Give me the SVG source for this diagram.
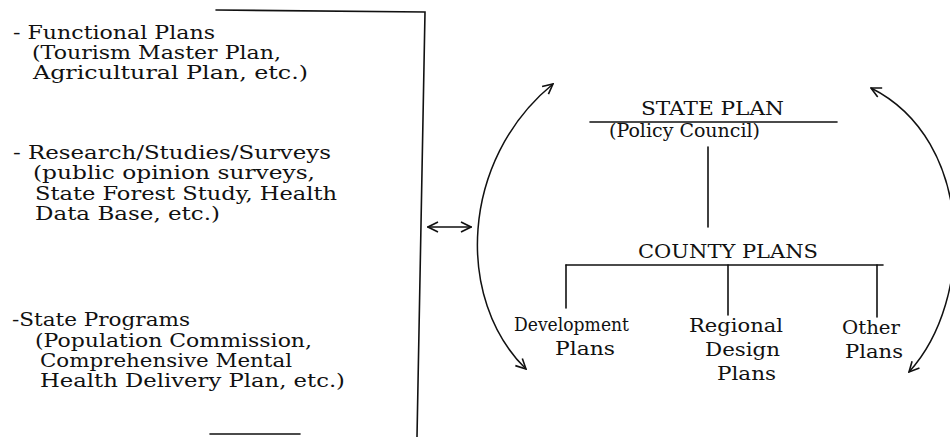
<svg xmlns="http://www.w3.org/2000/svg" width="950" height="437" viewBox="0 0 950 437">
<style>
text{font-family:"DejaVu Serif","Liberation Serif",serif;font-size:18px;fill:#111}
.ln{stroke:#111;stroke-width:1.6;fill:none;stroke-linecap:round}
.arc{stroke:#111;stroke-width:1.5;fill:none}
</style>
<defs>
<marker id="v" viewBox="0 0 12 12" refX="11" refY="6" markerWidth="12" markerHeight="12" markerUnits="userSpaceOnUse" orient="auto-start-reverse">
<path d="M1 1 L11 6 L1 11" fill="none" stroke="#111" stroke-width="1.6"/>
</marker>
</defs>
<g id="left-bracket">
<path class="ln" d="M216 10 L425 12 L417 437"/>
<path class="ln" d="M210 434 L300 434"/>
</g>
<g id="functional-plans">
<text x="13" y="39" textLength="202" lengthAdjust="spacingAndGlyphs">- Functional Plans</text>
<text x="32" y="59" textLength="249" lengthAdjust="spacingAndGlyphs">(Tourism Master Plan,</text>
<text x="33" y="79" textLength="275" lengthAdjust="spacingAndGlyphs">Agricultural Plan, etc.)</text>
</g>
<g id="research">
<text x="13" y="159" textLength="318" lengthAdjust="spacingAndGlyphs">- Research/Studies/Surveys</text>
<text x="33" y="179" textLength="282" lengthAdjust="spacingAndGlyphs">(public opinion surveys,</text>
<text x="35" y="200" textLength="302" lengthAdjust="spacingAndGlyphs">State Forest Study, Health</text>
<text x="35" y="220" textLength="185" lengthAdjust="spacingAndGlyphs">Data Base, etc.)</text>
</g>
<g id="state-programs">
<text x="12" y="326" textLength="178" lengthAdjust="spacingAndGlyphs">-State Programs</text>
<text x="35" y="347" textLength="277" lengthAdjust="spacingAndGlyphs">(Population Commission,</text>
<text x="40" y="367" textLength="252" lengthAdjust="spacingAndGlyphs">Comprehensive Mental</text>
<text x="40" y="387" textLength="305" lengthAdjust="spacingAndGlyphs">Health Delivery Plan, etc.)</text>
</g>
<g id="state-plan">
<text x="641" y="115" textLength="143" lengthAdjust="spacingAndGlyphs">STATE PLAN</text>
<path class="ln" d="M590 122 L837 122"/>
<text x="609" y="137" textLength="151" lengthAdjust="spacingAndGlyphs">(Policy Council)</text>
</g>
<g id="county-plans">
<text x="638" y="258" textLength="180" lengthAdjust="spacingAndGlyphs">COUNTY PLANS</text>
</g>
<g id="development-plans">
<text x="514" y="331" textLength="115" lengthAdjust="spacingAndGlyphs">Development</text>
<text x="555" y="355" textLength="60" lengthAdjust="spacingAndGlyphs">Plans</text>
</g>
<g id="regional-design-plans">
<text x="689" y="332" textLength="94" lengthAdjust="spacingAndGlyphs">Regional</text>
<text x="705" y="356" textLength="75" lengthAdjust="spacingAndGlyphs">Design</text>
<text x="717" y="380" textLength="59" lengthAdjust="spacingAndGlyphs">Plans</text>
</g>
<g id="other-plans">
<text x="842" y="334" textLength="58" lengthAdjust="spacingAndGlyphs">Other</text>
<text x="845" y="358" textLength="58" lengthAdjust="spacingAndGlyphs">Plans</text>
</g>
<g id="connectors">
<path class="ln" d="M708 147 L708 227"/>
<path class="ln" d="M566 265 L883 265"/>
<path class="ln" d="M566 265 L566 308"/>
<path class="ln" d="M728 265 L728 315"/>
<path class="ln" d="M877 265 L877 317"/>
<path class="ln" d="M428 227 L471 227" marker-start="url(#v)" marker-end="url(#v)"/>
<path class="arc" d="M526 369 C455 300 460 160 553 84" marker-start="url(#v)" marker-end="url(#v)"/>
<path class="arc" d="M871 88 C975 140 975 300 909 372" marker-start="url(#v)" marker-end="url(#v)"/>
</g>
</svg>
